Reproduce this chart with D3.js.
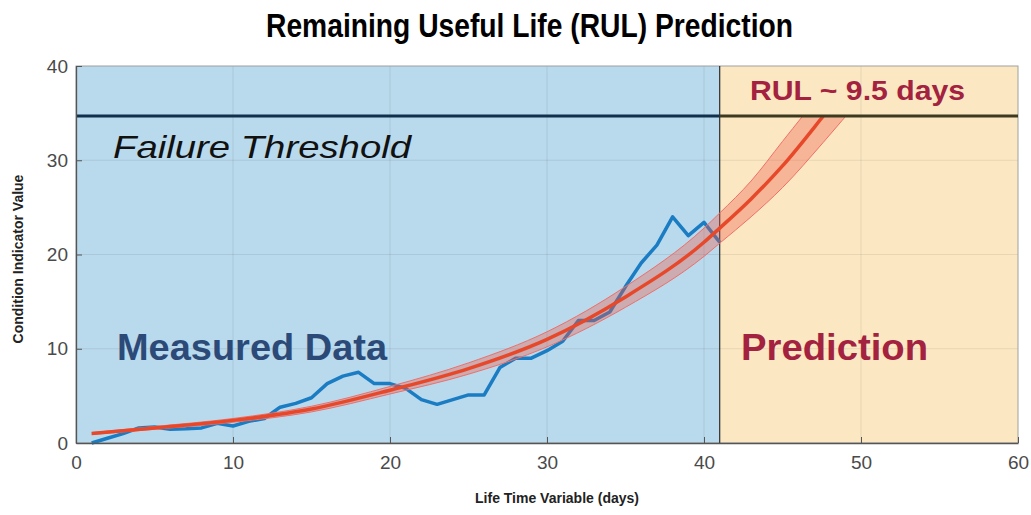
<!DOCTYPE html>
<html>
<head>
<meta charset="utf-8">
<script src="https://cdn.jsdelivr.net/npm/d3@7"></script>
<style>
  body { margin: 0; background: #fff; }
  svg { display: block; }
</style>
</head>
<body>
<div id="chart"></div>
<script>
// measured condition indicator, one value per day
const days = [1, 2, 3, 4, 5, 6, 7, 8, 9, 10, 11, 12, 13, 14, 15, 16, 17, 18, 19, 20, 21,
    22, 23, 24, 25, 26, 27, 28, 29, 30, 31, 32, 33, 34, 35, 36, 37, 38, 39, 40, 41];
const measured = [0, 0.5, 1.0, 1.6, 1.7, 1.45, 1.5, 1.6, 2.1, 1.8, 2.3, 2.6, 3.8, 4.2, 4.8, 6.3, 7.1,
    7.5, 6.3, 6.3, 5.8, 4.6, 4.1, 4.6, 5.1, 5.1, 8.0, 9.0, 9.0, 9.8, 10.8, 13.0, 13.0, 13.9, 16.6,
    19.1, 21.0, 24.0, 22.0, 23.4, 21.3];

// fitted degradation model and its confidence band
const fitDays = [1, 5, 10, 15, 20, 25, 30, 35, 40, 41, 43, 45, 47.6, 50];
const fitMid = [1.0, 1.6, 2.4, 3.6, 5.6, 7.9, 11.0, 15.5, 21.3, 22.8, 25.9, 29.4, 34.7, 39.8];
const fitUpper = [1.1, 1.75, 2.6, 3.9, 6.0, 8.5, 11.8, 16.6, 22.8, 24.4, 27.8, 32.0, 37.5, 43.0];
const fitLower = [0.9, 1.45, 2.2, 3.3, 5.2, 7.3, 10.2, 14.4, 19.8, 21.2, 24.0, 27.1, 31.9, 36.6];

const xTicks = [0, 10, 20, 30, 40, 50, 60];
const yTicks = [0, 10, 20, 30, 40];
const threshold = 34.7;
const predictionStart = 41;

render();

function render() {
    const width = 1031, height = 515;
    const margin = { top: 66, right: 13, bottom: 72, left: 76 };
    const innerW = width - margin.left - margin.right;
    const innerH = height - margin.top - margin.bottom;

    const svg = d3.select('#chart').append('svg')
        .attr('width', width)
        .attr('height', height);

    const x = d3.scaleLinear().domain([0, 60]).range([0, innerW]);
    const y = d3.scaleLinear().domain([0, 40]).range([innerH, 0]);

    const g = svg.append('g')
        .attr('transform', `translate(${margin.left},${margin.top})`);

    // background regions
    g.append('rect')
        .attr('x', x(0)).attr('y', 0)
        .attr('width', x(predictionStart) - x(0)).attr('height', innerH)
        .attr('fill', '#b9d9ec');
    g.append('rect')
        .attr('x', x(predictionStart)).attr('y', 0)
        .attr('width', x(60) - x(predictionStart)).attr('height', innerH)
        .attr('fill', '#fbe8c3');

    // grid
    g.selectAll('.gx').data(xTicks.slice(1, -1)).join('line')
        .attr('x1', d => x(d)).attr('x2', d => x(d))
        .attr('y1', 0).attr('y2', innerH)
        .attr('stroke', '#000').attr('stroke-opacity', 0.08);
    g.selectAll('.gy').data(yTicks.slice(1, -1)).join('line')
        .attr('x1', 0).attr('x2', innerW)
        .attr('y1', d => y(d)).attr('y2', d => y(d))
        .attr('stroke', '#000').attr('stroke-opacity', 0.08);

    // box
    g.append('rect')
        .attr('width', innerW).attr('height', innerH)
        .attr('fill', 'none').attr('stroke', '#a0a0a0');

    // prediction start divider
    g.append('line')
        .attr('x1', x(predictionStart)).attr('x2', x(predictionStart))
        .attr('y1', 0).attr('y2', innerH)
        .attr('stroke', '#2a2a2a').attr('stroke-width', 1.2);

    // measured data
    const line = d3.line().x(d => x(d[0])).y(d => y(d[1]));
    g.append('path')
        .datum(days.map((d, i) => [d, measured[i]]))
        .attr('d', line)
        .attr('fill', 'none')
        .attr('stroke', '#1a7cc2')
        .attr('stroke-width', 3.5)
        .attr('stroke-linejoin', 'round');

    // clip the model at the failure threshold
    svg.append('defs').append('clipPath').attr('id', 'below')
        .append('rect')
        .attr('x', 0).attr('y', y(threshold))
        .attr('width', innerW).attr('height', innerH - y(threshold));

    const fit = fitDays.map((d, i) => ({ t: d, mid: fitMid[i], lo: fitLower[i], hi: fitUpper[i] }));
    const model = g.append('g').attr('clip-path', 'url(#below)');

    model.append('path')
        .datum(fit)
        .attr('d', d3.area().curve(d3.curveMonotoneX)
            .x(d => x(d.t)).y0(d => y(d.lo)).y1(d => y(d.hi)))
        .attr('fill', 'rgb(240,85,70)')
        .attr('fill-opacity', 0.35);
    ['lo', 'hi'].forEach(k => {
        model.append('path')
            .datum(fit)
            .attr('d', d3.line().curve(d3.curveMonotoneX).x(d => x(d.t)).y(d => y(d[k])))
            .attr('fill', 'none')
            .attr('stroke', '#ef6f6a')
            .attr('stroke-width', 1);
    });
    model.append('path')
        .datum(fit)
        .attr('d', d3.line().curve(d3.curveMonotoneX).x(d => x(d.t)).y(d => y(d.mid)))
        .attr('fill', 'none')
        .attr('stroke', '#e8482a')
        .attr('stroke-width', 3.5);

    // failure threshold
    g.append('line')
        .attr('x1', x(0)).attr('x2', x(predictionStart))
        .attr('y1', y(threshold)).attr('y2', y(threshold))
        .attr('stroke', '#10304c').attr('stroke-width', 3);
    g.append('line')
        .attr('x1', x(predictionStart)).attr('x2', x(60))
        .attr('y1', y(threshold)).attr('y2', y(threshold))
        .attr('stroke', '#3d3a1f').attr('stroke-width', 3);

    // axes
    const xAxis = g.append('g')
        .attr('transform', `translate(0,${innerH})`)
        .call(d3.axisBottom(x).tickValues(xTicks).tickSize(-6).tickSizeOuter(0).tickPadding(13));
    const yAxis = g.append('g')
        .call(d3.axisLeft(y).tickValues(yTicks).tickSize(-6).tickSizeOuter(0).tickPadding(8));
    [xAxis, yAxis].forEach(a => {
        a.select('.domain').attr('stroke', '#555').attr('stroke-width', 1.3);
        a.selectAll('.tick line').attr('stroke', '#555');
        a.selectAll('.tick text')
            .attr('fill', '#4a4a4a')
            .style('font-family', '"Liberation Sans", Arial, sans-serif')
            .style('font-size', '19px');
    });

    // axis titles
    svg.append('text')
        .attr('x', margin.left + innerW / 2 + 10).attr('y', 503)
        .attr('text-anchor', 'middle')
        .style('font-family', '"Liberation Sans", Arial, sans-serif')
        .style('font-weight', 'bold').style('font-size', '14px')
        .attr('fill', '#222')
        .text('Life Time Variable (days)');
    svg.append('text')
        .attr('transform', 'translate(23,259) rotate(-90)')
        .attr('text-anchor', 'middle')
        .style('font-family', '"Liberation Sans", Arial, sans-serif')
        .style('font-weight', 'bold').style('font-size', '14px')
        .attr('fill', '#222')
        .text('Condition Indicator Value');

    // title
    svg.append('text')
        .attr('x', 266).attr('y', 37)
        .attr('textLength', 527).attr('lengthAdjust', 'spacingAndGlyphs')
        .style('font-family', '"Liberation Sans Narrow", "Liberation Sans", Arial, sans-serif')
        .style('font-weight', 'bold').style('font-size', '33px')
        .attr('fill', '#000')
        .text('Remaining Useful Life (RUL) Prediction');

    // annotations
    svg.append('text')
        .attr('x', 113).attr('y', 158)
        .attr('textLength', 298).attr('lengthAdjust', 'spacingAndGlyphs')
        .style('font-family', '"Liberation Sans", Arial, sans-serif')
        .style('font-style', 'italic').style('font-size', '32px')
        .attr('fill', '#111')
        .text('Failure Threshold');
    svg.append('text')
        .attr('x', 117).attr('y', 360)
        .attr('textLength', 270).attr('lengthAdjust', 'spacingAndGlyphs')
        .style('font-family', '"Liberation Sans", Arial, sans-serif')
        .style('font-weight', 'bold').style('font-size', '37px')
        .attr('fill', '#2c4a78')
        .text('Measured Data');
    svg.append('text')
        .attr('x', 741).attr('y', 360)
        .attr('textLength', 187).attr('lengthAdjust', 'spacingAndGlyphs')
        .style('font-family', '"Liberation Sans", Arial, sans-serif')
        .style('font-weight', 'bold').style('font-size', '37px')
        .attr('fill', '#a3223f')
        .text('Prediction');
    svg.append('text')
        .attr('x', 750).attr('y', 100)
        .attr('textLength', 215).attr('lengthAdjust', 'spacingAndGlyphs')
        .style('font-family', '"Liberation Sans", Arial, sans-serif')
        .style('font-weight', 'bold').style('font-size', '28px')
        .attr('fill', '#a3223f')
        .text('RUL ~ 9.5 days');
}
</script>
</body>
</html>
